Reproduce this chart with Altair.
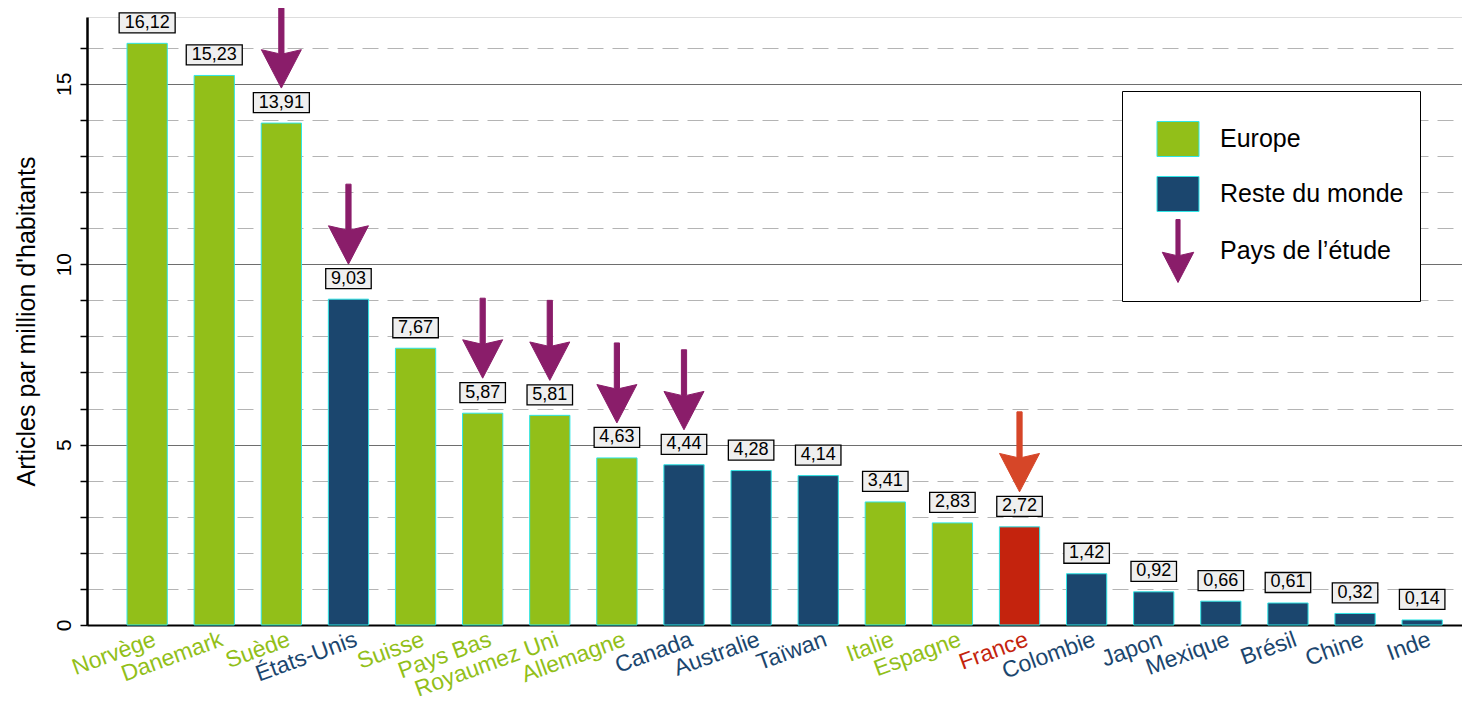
import altair as alt
import pandas as pd

pays = ["Norvège", "Danemark", "Suède", "États-Unis", "Suisse", "Pays Bas",
        "Royaumez Uni", "Allemagne", "Canada", "Australie", "Taïwan", "Italie",
        "Espagne", "France", "Colombie", "Japon", "Mexique", "Brésil", "Chine", "Inde"]
valeurs = [16.12, 15.23, 13.91, 9.03, 7.67, 5.87, 5.81, 4.63, 4.44, 4.28, 4.14,
           3.41, 2.83, 2.72, 1.42, 0.92, 0.66, 0.61, 0.32, 0.14]
groupes = ["Europe", "Europe", "Europe", "Reste du monde", "Europe", "Europe",
           "Europe", "Europe", "Reste du monde", "Reste du monde", "Reste du monde",
           "Europe", "Europe", "France", "Reste du monde", "Reste du monde",
           "Reste du monde", "Reste du monde", "Reste du monde", "Reste du monde"]
etude = [False, False, True, True, False, True, True, True, True, False, False,
         False, False, True, False, False, False, False, False, False]

GREEN = "#92BF19"
BLUE = "#1B466E"
RED = "#C4230D"
PURPLE = "#8A1D6A"
ORANGE = "#D64628"
CYAN = "#2FE6E6"

df = pd.DataFrame({"pays": pays, "valeur": valeurs, "groupe": groupes, "etude": etude})

cats = ["Europe", "Reste du monde", "Pays de l’étude", "France", "France (étude)"]
RECT = "M-0.667,-0.556L0.667,-0.556L0.667,0.556L-0.667,0.556Z"
ARROW = "M-0.065,-1L0.065,-1L0.065,0.14L0.5,0.04L0,1L-0.5,0.04L-0.065,0.14Z"
fill_scale = alt.Scale(domain=cats, range=[GREEN, BLUE, PURPLE, RED, ORANGE])
stroke_scale = alt.Scale(domain=cats, range=[CYAN, CYAN, PURPLE, CYAN, ORANGE])
shape_scale = alt.Scale(domain=cats, range=[RECT, RECT, ARROW, RECT, ARROW])

FONT = "Liberation Sans"

leg = alt.Legend(
    values=["Europe", "Reste du monde", "Pays de l’étude"], title=None,
    orient="none", legendX=1035, legendY=74, padding=16, symbolOffset=8,
    labelOffset=10, rowPadding=3, strokeColor="black", fillColor="white",
    labelFontSize=25, labelFont=FONT, labelColor="black", labelLimit=400,
    symbolSize=3969, symbolStrokeWidth=1, symbolOpacity=1,
)

europe = [p for p, g in zip(pays, groupes) if g == "Europe"]
eu_test = "indexof([" + ",".join("'" + p + "'" for p in europe) + "], datum.value) >= 0"

x = alt.X(
    "pays:N", sort=pays, title=None,
    scale=alt.Scale(paddingInner=0.4, paddingOuter=0.445, align=0.67),
    axis=alt.Axis(
        labelAngle=340, labelAlign="right", labelBaseline="top", labelFontSize=23,
        labelFont=FONT, ticks=False, domainColor="black", domainWidth=2,
        labelPadding=3, labelOffset=4, labelLimit=300,
        labelColor={"condition": [{"test": "datum.value === 'France'", "value": RED},
                                  {"test": eu_test, "value": GREEN}],
                    "value": BLUE},
    ),
)
y = alt.Y(
    "valeur:Q", title="Articles par million d'habitants",
    scale=alt.Scale(domain=[0, 16.85], nice=False, zero=True),
    axis=alt.Axis(
        values=list(range(0, 17)), labelAngle=270, labelAlign="center",
        labelBaseline="alphabetic", labelFontSize=21, labelFont=FONT, labelColor="black",
        labelPadding=10, labelExpr="datum.value % 5 === 0 ? datum.label : ''",
        titleFont=FONT, titleFontSize=25, titleFontWeight="normal", titleColor="black",
        titlePadding=14,
        grid=True, gridWidth=1,
        gridColor={"condition": {"test": "datum.value % 5 === 0", "value": "#6E6E6E"},
                   "value": "#B4B4B4"},
        gridDash={"condition": {"test": "datum.value % 5 === 0", "value": []},
                  "value": [16, 9]},
        tickColor="black", tickSize=7, tickWidth=1.5,
        domainColor="black", domainWidth=2.5,
    ),
)

base = alt.Chart(df).transform_calculate(
    label="replace(format(datum.valeur, '.2f'), '.', ',')",
).transform_calculate(
    bw="length(datum.label) * 10.5 + 3.5",
)

bars = base.mark_bar(strokeWidth=1).encode(
    x=x, y=y,
    fill=alt.Fill("groupe:N", scale=fill_scale, legend=leg),
    stroke=alt.Stroke("groupe:N", scale=stroke_scale, legend=leg),
)

boxes = base.mark_bar(yOffset=-30.5, y2Offset=-10.5, fill="#EFEFEF", stroke="black",
                      strokeWidth=1.3).encode(
    x=x, y=y, y2=alt.Y2("valeur:Q"),
    size=alt.Size("bw:Q", scale=None, legend=None),
)

texts = base.mark_text(dy=-20.5, fontSize=18, font=FONT, color="black",
                       baseline="middle").encode(
    x=x, y=y, text="label:N",
)

arrows = base.transform_filter("datum.etude").transform_calculate(
    cat="datum.pays === 'France' ? 'France (étude)' : 'Pays de l’étude'"
).mark_point(filled=True, yOffset=-75, size=6400, opacity=1, strokeWidth=1).encode(
    x=x, y=y,
    fill=alt.Fill("cat:N", scale=fill_scale, legend=leg),
    stroke=alt.Stroke("cat:N", scale=stroke_scale, legend=leg),
    shape=alt.Shape("cat:N", scale=shape_scale, legend=leg),
)

chart = alt.layer(bars, boxes, texts, arrows).properties(
    width=1375, height=608,
    autosize=alt.AutoSizeParams(type="none"),
    padding={"left": 79, "top": 9, "right": 0, "bottom": 78},
).configure_view(stroke=None).configure(font=FONT)

chart.save("out.html", embed_options={"renderer": "svg", "actions": False})
